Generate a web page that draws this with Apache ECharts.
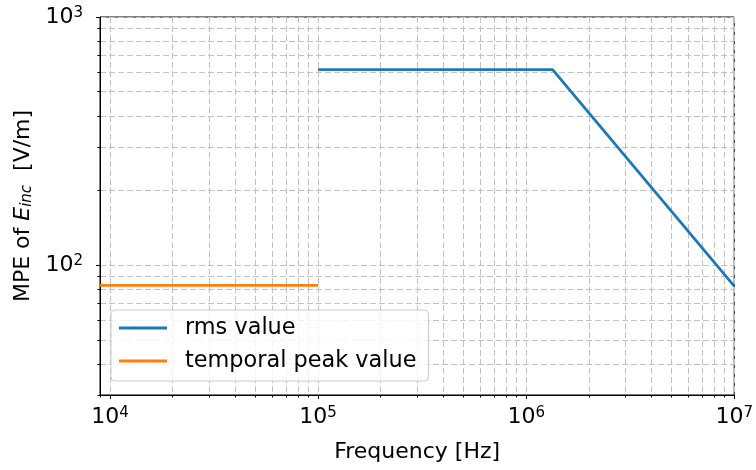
<!DOCTYPE html>
<html>
<head>
<meta charset="utf-8">
<script src="https://cdn.jsdelivr.net/npm/echarts@6/dist/echarts.min.js"></script>
<style>html,body{margin:0;padding:0;background:#fff}#c{width:756px;height:470px}</style>
</head>
<body>
<div id="c"></div>
<script>
// Data
const rmsFreq = [1e5, 1.34e6, 1e7];
const rmsVal = [614, 614, 82.38];
const peakFreq = [8950, 1e5];
const peakVal = [83, 83];

// Ticks
const xMajor = [1e4, 1e5, 1e6, 1e7];
const xMinor = [9e3, 2e4, 3e4, 4e4, 5e4, 6e4, 7e4, 8e4, 9e4,
                2e5, 3e5, 4e5, 5e5, 6e5, 7e5, 8e5, 9e5,
                2e6, 3e6, 4e6, 5e6, 6e6, 7e6, 8e6, 9e6];
const yMajor = [100, 1000];
const yMinor = [30, 40, 50, 60, 70, 80, 90, 200, 300, 400, 500, 600, 700, 800, 900];

const xMin = 8950, xMax = 1e7, yMin = 30, yMax = 1000;
const FONT = 'DejaVu Sans';

const gridLine = { show: true, lineStyle: { color: '#c2c2c2', width: 1, type: [6, 3] } };
const powLabel = v => '{b|10}{s|' + Math.round(Math.log10(v)) + '}';
const rich = {
  b: { fontFamily: FONT, fontSize: 22, color: '#000' },
  s: { fontFamily: FONT, fontSize: 15, color: '#000', padding: [0, 0, 8, 0] }
};

const chart = echarts.init(document.getElementById('c'), null, { renderer: 'canvas' });
chart.setOption({
  animation: false,
  backgroundColor: '#fff',
  grid: { left: 100, right: 21, top: 17, bottom: 75, show: true, borderColor: '#000', borderWidth: 1, backgroundColor: 'transparent' },
  legend: {
    orient: 'vertical', left: 111, top: 310,
    padding: [5, 12, 7, 8], itemGap: 7, itemWidth: 48, itemHeight: 3, icon: 'rect',
    backgroundColor: 'rgba(255,255,255,0.8)', borderColor: '#cccccc', borderWidth: 1, borderRadius: 4,
    textStyle: { fontFamily: FONT, fontSize: 22.4, lineHeight: 26, color: '#000', padding: [0, 0, 0, 13] },
    data: ['rms value', 'temporal peak value']
  },
  xAxis: [
    {
      type: 'log', logBase: 10, min: xMin, max: xMax, position: 'bottom',
      name: 'Frequency [Hz]', nameLocation: 'middle', nameGap: 46,
      nameTextStyle: { fontFamily: FONT, fontSize: 22, color: '#000' },
      axisLine: { show: true, lineStyle: { color: '#000', width: 1 } },
      axisTick: { show: true, inside: false, length: 4, lineStyle: { color: '#000' }, customValues: xMajor },
      axisLabel: { show: true, margin: 11, customValues: xMajor, formatter: powLabel, rich: rich },
      splitLine: gridLine
    },
    {
      type: 'log', logBase: 10, min: xMin, max: xMax, position: 'bottom',
      axisLine: { show: false },
      axisTick: { show: true, inside: false, length: 2.5, lineStyle: { color: '#000' }, customValues: xMinor },
      axisLabel: { show: false },
      splitLine: gridLine
    }
  ],
  yAxis: [
    {
      type: 'log', logBase: 10, min: yMin, max: yMax, position: 'left',
      name: '{n|MPE of }{e|E}{sub|inc}{n|  [V/m]}', nameLocation: 'middle', nameGap: 64, nameRotate: 90,
      nameTextStyle: {
        rich: {
          n: { fontFamily: FONT, fontSize: 22, color: '#000' },
          e: { fontFamily: FONT, fontSize: 22, fontStyle: 'italic', color: '#000' },
          sub: { fontFamily: FONT, fontSize: 15, fontStyle: 'italic', color: '#000', padding: [7, 0, 0, 0] }
        }
      },
      axisLine: { show: true, lineStyle: { color: '#000', width: 1 } },
      axisTick: { show: true, inside: false, length: 4, lineStyle: { color: '#000' }, customValues: yMajor },
      axisLabel: { show: true, margin: 17, customValues: yMajor, formatter: powLabel, rich: rich },
      splitLine: gridLine
    },
    {
      type: 'log', logBase: 10, min: yMin, max: yMax, position: 'left',
      axisLine: { show: false },
      axisTick: { show: true, inside: false, length: 2.5, lineStyle: { color: '#000' }, customValues: yMinor },
      axisLabel: { show: false },
      splitLine: gridLine
    }
  ],
  series: [
    {
      name: 'rms value', type: 'line', xAxisIndex: 0, yAxisIndex: 0,
      data: rmsFreq.map((f, i) => [f, rmsVal[i]]),
      symbol: 'none', lineStyle: { color: '#1f77b4', width: 2.8 }, itemStyle: { color: '#1f77b4' }, z: 5
    },
    {
      name: 'temporal peak value', type: 'line', xAxisIndex: 0, yAxisIndex: 0,
      data: peakFreq.map((f, i) => [f, peakVal[i]]),
      symbol: 'none', lineStyle: { color: '#ff7f0e', width: 2.8 }, itemStyle: { color: '#ff7f0e' }, z: 5
    }
  ]
});
</script>
</body>
</html>
